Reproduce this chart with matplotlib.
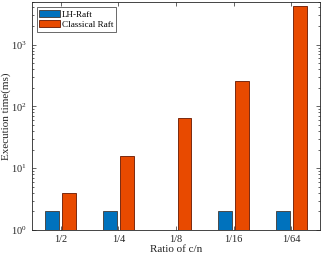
import matplotlib
matplotlib.use("Agg")
import matplotlib.pyplot as plt
import numpy as np
from matplotlib.ticker import LogLocator, NullFormatter

plt.rcParams['font.family'] = ['Liberation Serif', 'DejaVu Serif']
plt.rcParams['mathtext.fontset'] = 'stix'

categories = ['1/2', '1/4', '1/8', '1/16', '1/64']
lh_raft = [2, 2, 1, 2, 2]
classical_raft = [4, 16, 65, 260, 4300]
series_names = ['LH-Raft', 'Classical Raft']

fig = plt.figure(figsize=(3.24, 2.56), dpi=100)
ax = fig.add_axes([32/324, 1 - 230/256, 288/324, 228.5/256])

x = np.arange(1, len(categories) + 1)
w = 0.24
off = 0.147
ax.bar(x - off, lh_raft, w, color='#0072BD', edgecolor='#4a4a4a', linewidth=0.7,
       label=series_names[0], bottom=0)
ax.bar(x + off, classical_raft, w, color='#E84A00', edgecolor='#7a2a10', linewidth=0.7,
       label=series_names[1], bottom=0)

ax.set_yscale('log')
ax.set_ylim(1, 5000)
ax.set_xlim(0.5, len(categories) + 0.5)
ax.set_xticks(x)
ax.set_xticklabels(categories)
ax.yaxis.set_major_locator(LogLocator(base=10, numticks=10))
ax.yaxis.set_minor_locator(LogLocator(base=10, subs=np.arange(2, 10), numticks=20))
ax.yaxis.set_minor_formatter(NullFormatter())

for s in ax.spines.values():
    s.set_color('#262626')
    s.set_linewidth(0.6)
ax.tick_params(which='both', direction='in', top=True, right=True,
               colors='#262626', labelsize=7.5, width=0.5)
ax.tick_params(which='major', length=3)
ax.tick_params(which='minor', length=1.6)
ax.tick_params(axis='x', which='minor', top=False, bottom=False)
ax.tick_params(axis='x', pad=3.5)

ax.set_ylabel('Execution time(ms)', fontsize=8, color='#262626')
ax.yaxis.set_label_coords(-0.072, 0.5)
ax.set_xlabel('Ratio of c/n', fontsize=8, color='#262626', labelpad=1)

leg = ax.legend(loc='upper left', bbox_to_anchor=(4.7/288, 1 - 5.8/228.5),
                borderaxespad=0, fontsize=6.6, frameon=True, fancybox=False,
                edgecolor='#262626', borderpad=0.28, handlelength=2.26,
                handleheight=0.8, handletextpad=0.22, labelspacing=0.2)
leg.get_frame().set_linewidth(0.6)

fig.savefig('out.png', dpi=100)
